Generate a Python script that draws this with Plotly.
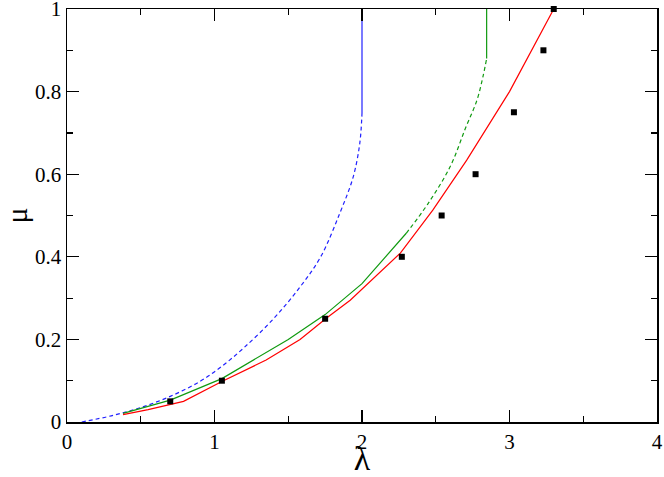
import plotly.graph_objects as go

# Blue curve (dashed part then vertical solid)
blue_dash_x = [0.1, 0.3, 0.5, 0.7, 0.9, 1.05, 1.2, 1.4, 1.58, 1.72, 1.85, 1.94, 1.985, 2.0]
blue_dash_y = [0.0, 0.015, 0.035, 0.062, 0.098, 0.135, 0.18, 0.25, 0.327, 0.40, 0.506, 0.593, 0.675, 0.748]
blue_solid_x = [2.0, 2.0]
blue_solid_y = [0.748, 1.0]

# Green curve
green_solid_x = [0.38, 0.7, 1.05, 1.5, 1.75, 2.0, 2.3]
green_solid_y = [0.021, 0.053, 0.105, 0.2, 0.26, 0.335, 0.457]
green_dash_x = [2.3, 2.45, 2.6, 2.7, 2.78, 2.82, 2.845]
green_dash_y = [0.457, 0.53, 0.62, 0.71, 0.78, 0.836, 0.88]
green_vert_x = [2.845, 2.845]
green_vert_y = [0.88, 1.0]

# Red curve
red_x = [0.38, 0.55, 0.79, 1.05, 1.35, 1.58, 1.76, 1.92, 2.26, 2.48, 2.71, 3.0, 3.3]
red_y = [0.018, 0.03, 0.05, 0.098, 0.15, 0.2, 0.252, 0.295, 0.409, 0.513, 0.634, 0.8, 1.0]

# Data points (black squares)
pts_x = [0.70, 1.05, 1.75, 2.27, 2.54, 2.77, 3.03, 3.23, 3.30]
pts_y = [0.05, 0.10, 0.25, 0.40, 0.50, 0.60, 0.75, 0.90, 1.00]

BLUE = "#2020ff"
GREEN = "#109a10"
RED = "#ff0000"
LW = 1.2

fig = go.Figure()
fig.add_trace(go.Scatter(x=blue_dash_x, y=blue_dash_y, mode="lines",
                         line=dict(color=BLUE, width=LW, dash="4px,3px"), line_shape="spline"))
fig.add_trace(go.Scatter(x=blue_solid_x, y=blue_solid_y, mode="lines",
                         line=dict(color=BLUE, width=LW)))
fig.add_trace(go.Scatter(x=green_solid_x, y=green_solid_y, mode="lines",
                         line=dict(color=GREEN, width=LW)))
fig.add_trace(go.Scatter(x=green_dash_x, y=green_dash_y, mode="lines",
                         line=dict(color=GREEN, width=LW, dash="4px,3px"), line_shape="spline"))
fig.add_trace(go.Scatter(x=green_vert_x, y=green_vert_y, mode="lines",
                         line=dict(color=GREEN, width=LW)))
fig.add_trace(go.Scatter(x=red_x, y=red_y, mode="lines",
                         line=dict(color=RED, width=LW)))
fig.add_trace(go.Scatter(x=pts_x, y=pts_y, mode="markers",
                         marker=dict(symbol="square", size=6, color="black"), cliponaxis=False))

font = "Liberation Serif"
axis_common = dict(
    showgrid=False, zeroline=False, showline=True, linecolor="black", linewidth=1.5,
    mirror="allticks", ticks="inside", ticklen=12, tickwidth=1.2, tickcolor="black",
    tickfont=dict(family=font, size=21, color="black"),
    automargin=False, ticklabeloverflow="allow",
)
fig.update_xaxes(range=[0, 4], tick0=0, dtick=1,
                 minor=dict(ticks="inside", ticklen=6, dtick=0.5, tickcolor="black", tickwidth=1.2),
                 title=dict(text="λ", font=dict(family=font, size=34, color="black"), standoff=2),
                 **axis_common)
fig.update_yaxes(range=[0, 1], tick0=0, dtick=0.2,
                 minor=dict(ticks="inside", ticklen=6, dtick=0.1, tickcolor="black", tickwidth=1.2),
                 title=dict(text="μ", font=dict(family=font, size=30, color="black"), standoff=6),
                 **axis_common)
fig.update_layout(
    width=664, height=477, showlegend=False, hovermode=False,
    margin=dict(l=67, r=7, t=9, b=55),
    plot_bgcolor="white", paper_bgcolor="white",
)
# Remove the default page margin so the figure sits at the window's top-left corner.
fig.write_html("out.html", config={"displayModeBar": False, "staticPlot": True},
               post_script="document.body.style.margin='0px';")
